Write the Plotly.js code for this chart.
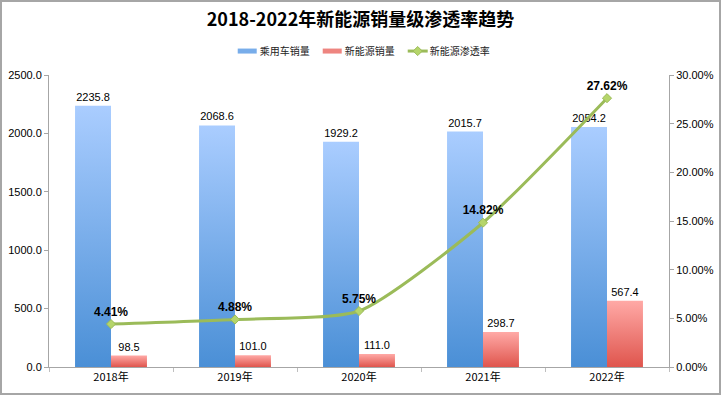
<!DOCTYPE html>
<html><head><meta charset="utf-8">
<script src="https://cdn.plot.ly/plotly-3.0.1.min.js"></script>
<style>
html,body{margin:0;padding:0;background:#fff;}
#wrap{position:relative;width:721px;height:395px;}
#chart{width:721px;height:395px;}
#frame{position:absolute;left:0;top:0;width:721px;height:395px;box-sizing:border-box;border:2px solid #a6a6a6;pointer-events:none;}
</style></head>
<body>
<div id="wrap"><div id="chart"></div><div id="frame"></div></div>
<script>
const categories = ['2018年','2019年','2020年','2021年','2022年'];
const passengerSales = [2235.8, 2068.6, 1929.2, 2015.7, 2054.2];
const nevSales = [98.5, 101.0, 111.0, 298.7, 567.4];
const penetration = [0.0441, 0.0488, 0.0575, 0.1482, 0.2762];
const seriesNames = ['乘用车销量','新能源销量','新能源渗透率'];
const titleText = '2018-2022年新能源销量级渗透率趋势';

const FONT = '"Noto Sans CJK SC", "Liberation Sans", sans-serif';
const NUMFONT = '"Liberation Sans", "Noto Sans CJK SC", sans-serif';

const traces = [
  {type:'bar', name:seriesNames[0], x:categories, y:passengerSales,
   marker:{color:'#78ADEA'}, text:passengerSales.map(v=>v.toFixed(1)),
   textposition:'outside', textfont:{size:11,color:'#000',family:NUMFONT}, cliponaxis:false},
  {type:'bar', name:seriesNames[1], x:categories, y:nevSales,
   marker:{color:'#EE8580'}, text:nevSales.map(v=>v.toFixed(1)),
   textposition:'outside', textfont:{size:11,color:'#000',family:NUMFONT}, cliponaxis:false},
  {type:'scatter', mode:'lines+markers+text', name:seriesNames[2], x:categories, y:penetration, yaxis:'y2',
   line:{color:'#9BBB59', width:3, shape:'spline', smoothing:0.6},
   marker:{symbol:'diamond', size:7, color:'#B5D56A', line:{color:'#9BBB59', width:1}},
   text:penetration.map(v=>'<b>'+(v*100).toFixed(2)+'%</b>'),
   textposition:'top center', textfont:{size:12,color:'#000',family:NUMFONT}, cliponaxis:false}
];

const layout = {
  width:721, height:395,
  margin:{l:49, r:52, t:75, b:28},
  paper_bgcolor:'#fff', plot_bgcolor:'#fff',
  font:{family:FONT, size:11, color:'#000'},
  title:{text:'<b>'+titleText+'</b>', x:0.5, xanchor:'center', y:0.95, yanchor:'middle',
         font:{size:18, family:FONT, color:'#000'}},
  barmode:'group', bargap:0.42, bargroupgap:0,
  showlegend:true,
  legend:{orientation:'h', x:0.481, xanchor:'center', y:1.082, yanchor:'middle',
          font:{size:10, family:FONT, color:'#222'}, itemwidth:30, traceorder:'normal',
          entrywidth:40, entrywidthmode:'pixels'},
  xaxis:{type:'category', showline:true, linecolor:'#a6a6a6', linewidth:1,
         ticks:'outside', tickson:'boundaries', ticklen:4, tickcolor:'#bfbfbf',
         tickfont:{size:11, family:FONT}, showgrid:false, zeroline:false},
  yaxis:{range:[0,2500], dtick:500, tickformat:'.1f', showgrid:false, zeroline:false,
         showline:true, linecolor:'#a6a6a6', ticks:'outside', ticklen:4, tickcolor:'#a6a6a6',
         tickfont:{size:11, family:NUMFONT}},
  yaxis2:{range:[0,0.3], dtick:0.05, tickformat:'.2%', overlaying:'y', side:'right',
          showgrid:false, zeroline:false, showline:true, linecolor:'#a6a6a6',
          ticks:'outside', ticklen:4, tickcolor:'#a6a6a6', tickfont:{size:11, family:NUMFONT}}
};

function addGradients(gd){
  const svg = gd.querySelector('svg.main-svg');
  const NS = 'http://www.w3.org/2000/svg';
  let defs = svg.querySelector('defs');
  if(!defs){ defs = document.createElementNS(NS,'defs'); svg.insertBefore(defs, svg.firstChild); }
  const grads = {gBlue:['#AACDFF','#4A8FD6'], gRed:['#FFA9A6','#DF554D']};
  Object.keys(grads).forEach(id=>{
    const lg = document.createElementNS(NS,'linearGradient');
    lg.setAttribute('id',id); lg.setAttribute('x1','0'); lg.setAttribute('y1','0');
    lg.setAttribute('x2','0'); lg.setAttribute('y2','1');
    grads[id].forEach((c,i)=>{
      const s = document.createElementNS(NS,'stop');
      s.setAttribute('offset', i? '1':'0'); s.setAttribute('stop-color', c);
      lg.appendChild(s);
    });
    defs.appendChild(lg);
  });
  const barTraces = gd.querySelectorAll('.barlayer .trace');
  const ids = ['gBlue','gRed'];
  barTraces.forEach((t,i)=>{
    t.querySelectorAll('.point path').forEach(p=>{ p.style.fill = 'url(#'+ids[i]+')'; });
  });
  // legend: no clipping, Excel-like symbols
  gd.querySelectorAll('.legend, .legend *').forEach(el=>{ if(el.hasAttribute && el.hasAttribute('clip-path')) el.removeAttribute('clip-path'); });
  const items = gd.querySelectorAll('.legend .traces');
  items.forEach((it,i)=>{
    if(i<2){
      it.querySelectorAll('.legendpoints path').forEach(p=>{ p.setAttribute('d','M17,2.5H-2V-2.5H17Z'); });
    } else {
      it.querySelectorAll('.legendlines path').forEach(p=>{ p.setAttribute('d','M18,0h20'); });
      it.querySelectorAll('.legendpoints path').forEach(p=>{ p.setAttribute('transform','translate(28,0)'); });
    }
  });
}

Plotly.newPlot('chart', traces, layout, {displayModeBar:false, staticPlot:true}).then(addGradients);
</script>
</body></html>
